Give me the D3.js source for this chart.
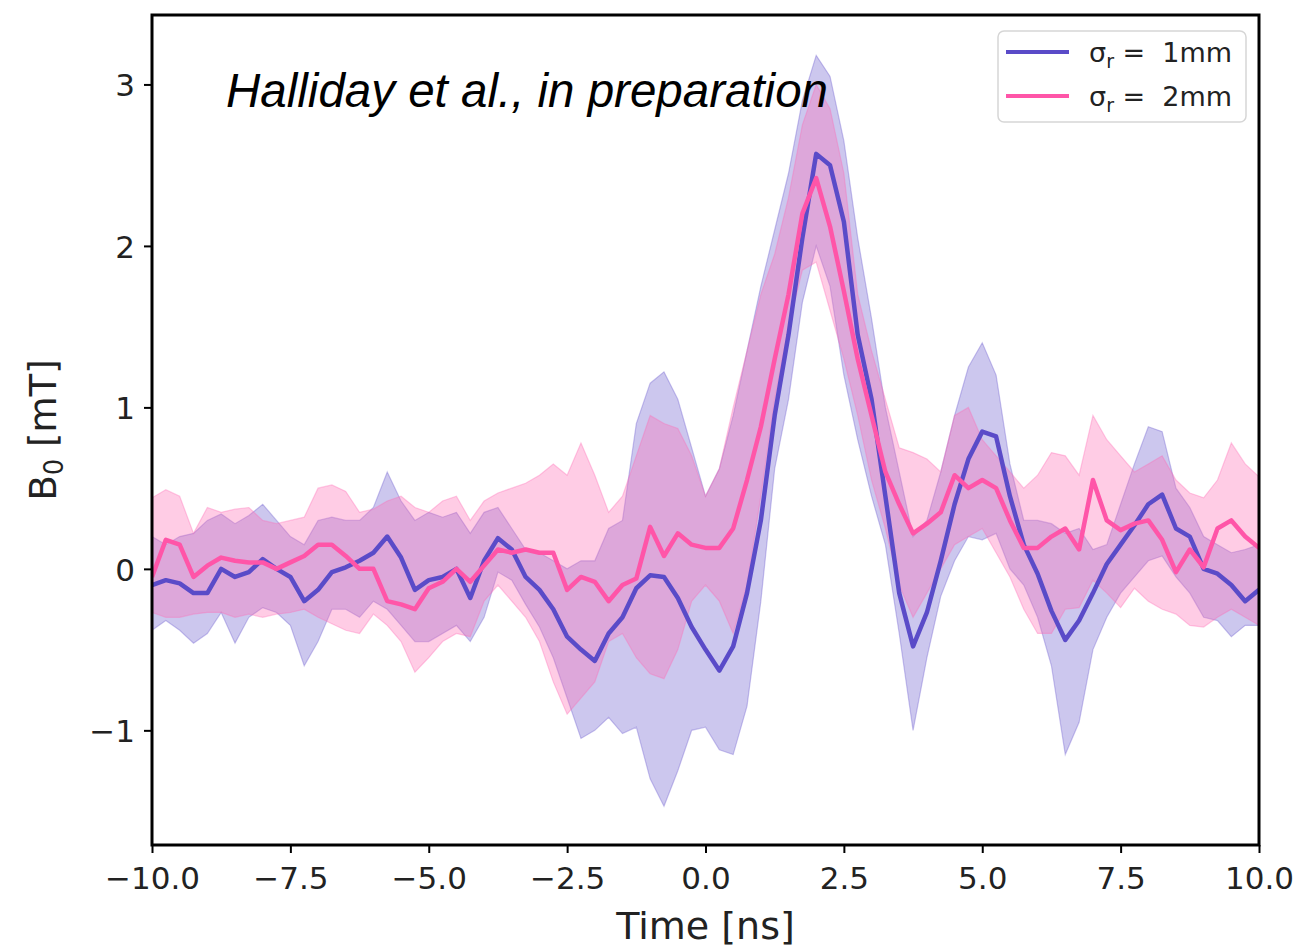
<!DOCTYPE html>
<html>
<head>
<meta charset="utf-8">
<script src="https://cdn.jsdelivr.net/npm/d3@7"></script>
<style>
  body { margin: 0; background: #fff; }
  svg { display: block; }
</style>
</head>
<body>
<div id="chart1"></div>
<script>
// sample times (ns)
const time = [-10, -9.75, -9.5, -9.25, -9, -8.75, -8.5, -8.25, -8, -7.75, -7.5, -7.25, -7, -6.75, -6.5, -6.25,
  -6, -5.75, -5.5, -5.25, -5, -4.75, -4.5, -4.25, -4, -3.75, -3.5, -3.25, -3, -2.75, -2.5, -2.25,
  -2, -1.75, -1.5, -1.25, -1, -0.75, -0.5, -0.25, 0, 0.25, 0.5, 0.75, 1, 1.25, 1.5, 1.75,
  2, 2.25, 2.5, 2.75, 3, 3.25, 3.5, 3.75, 4, 4.25, 4.5, 4.75, 5, 5.25, 5.5, 5.75,
  6, 6.25, 6.5, 6.75, 7, 7.25, 7.5, 7.75, 8, 8.25, 8.5, 8.75, 9, 9.25, 9.5, 9.75, 10];

// sigma_r = 1mm
const blueMean = [-0.10, -0.07, -0.09, -0.15, -0.15, 0.0, -0.05, -0.02, 0.06, 0.0, -0.05, -0.2, -0.13, -0.02, 0.01, 0.05,
  0.1, 0.2, 0.07, -0.13, -0.07, -0.05, 0.0, -0.18, 0.05, 0.19, 0.12, -0.05, -0.13, -0.25, -0.42, -0.5,
  -0.57, -0.4, -0.3, -0.12, -0.04, -0.05, -0.18, -0.36, -0.5, -0.63, -0.48, -0.15, 0.3, 0.95, 1.45, 2.05,
  2.57, 2.5, 2.15, 1.45, 1.05, 0.45, -0.15, -0.48, -0.27, 0.05, 0.4, 0.68, 0.85, 0.82, 0.45, 0.15,
  -0.03, -0.26, -0.44, -0.32, -0.15, 0.03, 0.15, 0.27, 0.4, 0.46, 0.25, 0.2, 0.0, -0.03, -0.1, -0.2, -0.13];
const blueLo = [-0.38, -0.32, -0.38, -0.46, -0.4, -0.27, -0.46, -0.3, -0.24, -0.27, -0.35, -0.6, -0.45, -0.25, -0.25, -0.3,
  -0.2, -0.25, -0.35, -0.45, -0.45, -0.4, -0.35, -0.45, -0.3, -0.02, -0.07, -0.22, -0.36, -0.55, -0.8, -1.05,
  -1.0, -0.92, -1.02, -0.98, -1.3, -1.47, -1.25, -1.0, -0.98, -1.12, -1.15, -0.85, -0.2, 0.62, 1.05, 1.65,
  2.0, 1.75, 1.2, 0.8, 0.45, 0.15, -0.4, -1.0, -0.55, -0.17, 0.05, 0.2, 0.18, 0.22, 0.0, -0.1,
  -0.3, -0.6, -1.15, -0.95, -0.5, -0.3, -0.15, -0.05, 0.05, 0.08, -0.05, -0.15, -0.3, -0.32, -0.42, -0.35, -0.35];
const blueHi = [0.2, 0.15, 0.2, 0.22, 0.3, 0.34, 0.28, 0.33, 0.4, 0.3, 0.2, 0.15, 0.3, 0.32, 0.3, 0.3,
  0.38, 0.6, 0.42, 0.3, 0.35, 0.32, 0.35, 0.22, 0.35, 0.38, 0.25, 0.12, 0.1, 0.05, 0.0, 0.05,
  0.05, 0.25, 0.3, 0.9, 1.15, 1.22, 1.05, 0.75, 0.45, 0.62, 0.95, 1.35, 1.75, 2.1, 2.45, 2.9,
  3.18, 3.05, 2.65, 2.05, 1.55, 1.0, 0.6, 0.2, 0.3, 0.6, 0.95, 1.25, 1.4, 1.2, 0.65, 0.3,
  0.3, 0.28, 0.22, 0.25, 0.12, 0.15, 0.4, 0.65, 0.88, 0.85, 0.5, 0.38, 0.2, 0.15, 0.1, 0.12, 0.15];

// sigma_r = 2mm
const pinkMean = [-0.05, 0.18, 0.15, -0.05, 0.02, 0.07, 0.05, 0.04, 0.04, 0.0, 0.04, 0.08, 0.15, 0.15, 0.08, 0.0,
  0.0, -0.2, -0.22, -0.25, -0.12, -0.08, 0.0, -0.08, 0.02, 0.12, 0.1, 0.12, 0.1, 0.1, -0.13, -0.05,
  -0.08, -0.2, -0.1, -0.06, 0.26, 0.08, 0.22, 0.15, 0.13, 0.13, 0.25, 0.55, 0.88, 1.3, 1.7, 2.2,
  2.42, 2.12, 1.72, 1.3, 0.95, 0.6, 0.4, 0.22, 0.28, 0.35, 0.58, 0.5, 0.55, 0.5, 0.3, 0.13,
  0.13, 0.2, 0.25, 0.12, 0.55, 0.3, 0.24, 0.28, 0.3, 0.18, -0.02, 0.12, 0.01, 0.25, 0.3, 0.2, 0.13];
const pinkLo = [-0.27, -0.3, -0.3, -0.28, -0.27, -0.27, -0.3, -0.28, -0.3, -0.28, -0.27, -0.25, -0.3, -0.34, -0.38, -0.4,
  -0.28, -0.35, -0.45, -0.64, -0.55, -0.45, -0.4, -0.42, -0.2, -0.1, -0.2, -0.3, -0.45, -0.7, -0.9, -0.8,
  -0.7, -0.45, -0.4, -0.55, -0.65, -0.68, -0.5, -0.2, -0.1, -0.2, -0.4, -0.1, 0.45, 1.05, 1.5, 1.85,
  1.9, 1.6, 1.3, 0.95, 0.55, 0.25, -0.1, -0.3, -0.15, 0.0, 0.15, 0.2, 0.25, 0.1, -0.05, -0.25,
  -0.4, -0.4, -0.25, -0.24, -0.07, -0.15, -0.24, -0.12, -0.2, -0.25, -0.28, -0.35, -0.36, -0.3, -0.25, -0.3, -0.35];
const pinkHi = [0.44, 0.49, 0.45, 0.22, 0.38, 0.35, 0.37, 0.38, 0.3, 0.28, 0.3, 0.32, 0.5, 0.52, 0.48, 0.35,
  0.37, 0.42, 0.45, 0.38, 0.35, 0.42, 0.45, 0.3, 0.42, 0.47, 0.5, 0.53, 0.58, 0.65, 0.58, 0.78,
  0.58, 0.35, 0.45, 0.7, 0.95, 0.9, 0.87, 0.7, 0.45, 0.62, 1.0, 1.35, 1.7, 1.95, 2.3, 2.75,
  3.0, 2.85, 2.45, 1.7, 1.35, 1.05, 0.75, 0.72, 0.68, 0.6, 0.95, 1.0, 0.8, 0.7, 0.6, 0.5,
  0.58, 0.72, 0.7, 0.58, 0.95, 0.8, 0.7, 0.6, 0.65, 0.7, 0.55, 0.47, 0.44, 0.55, 0.78, 0.65, 0.57];

const xTicks = [-10, -7.5, -5, -2.5, 0, 2.5, 5, 7.5, 10];
const yTicks = [-1, 0, 1, 2, 3];
const seriesNames = ["1mm", "2mm"];

function initPlot() {
  const margin = { top: 15, right: 57, bottom: 104, left: 152 },
        width = 1316 - margin.left - margin.right,
        height = 949 - margin.top - margin.bottom;

  const svg = d3.select("#chart1").append("svg")
      .attr("width", 1316)
      .attr("height", 949)
      .style("font-family", "'DejaVu Sans', sans-serif")
    .append("g")
      .attr("transform", `translate(${margin.left},${margin.top})`);

  const x = d3.scaleLinear().domain([-10, 10]).range([0, width]);
  const y = d3.scaleLinear().domain([-1.71, 3.43]).range([height, 0]);

  svg.append("clipPath").attr("id", "clip")
    .append("rect").attr("width", width).attr("height", height);

  const series = [
    { name: seriesNames[0], mean: blueMean, lo: blueLo, hi: blueHi, color: "#5a4bc8", fill: "#6a5acd" },
    { name: seriesNames[1], mean: pinkMean, lo: pinkLo, hi: pinkHi, color: "#ff55a8", fill: "#ff69b4" }
  ];

  const plot = svg.append("g").attr("clip-path", "url(#clip)");

  const area = (s) => d3.area()
      .x((d, i) => x(time[i]))
      .y0((d, i) => y(s.lo[i]))
      .y1((d, i) => y(s.hi[i]));

  const line = (s) => d3.line()
      .x((d, i) => x(time[i]))
      .y((d, i) => y(s.mean[i]));

  // bands first, lines on top
  series.forEach(s => {
    plot.append("path")
      .datum(time)
      .attr("d", area(s))
      .attr("fill", s.fill)
      .attr("fill-opacity", 0.34)
      .attr("stroke", s.fill)
      .attr("stroke-opacity", 0.35)
      .attr("stroke-width", 1.2);
  });
  series.forEach(s => {
    plot.append("path")
      .datum(time)
      .attr("d", line(s))
      .attr("fill", "none")
      .attr("stroke", s.color)
      .attr("stroke-width", 4.5)
      .attr("stroke-linejoin", "round");
  });

  // axes
  const xAxis = svg.append("g")
    .attr("transform", `translate(0,${height})`)
    .call(d3.axisBottom(x).tickValues(xTicks).tickFormat(d3.format(".1f")).tickSize(8).tickSizeOuter(0));
  const yAxis = svg.append("g")
    .call(d3.axisLeft(y).tickValues(yTicks).tickFormat(d3.format("d")).tickSize(8).tickSizeOuter(0));

  [xAxis, yAxis].forEach(a => {
    a.select(".domain").remove();
    a.selectAll(".tick line").attr("stroke", "#000").attr("stroke-width", 2);
    a.selectAll("text")
      .attr("fill", "#222")
      .style("font-family", "'DejaVu Sans', sans-serif")
      .style("font-size", "31px");
  });
  xAxis.selectAll("text").attr("dy", "0.71em").attr("y", 22);
  yAxis.selectAll("text").attr("x", -17).attr("dy", "0.36em");

  // frame
  svg.append("rect")
    .attr("width", width)
    .attr("height", height)
    .attr("fill", "none")
    .attr("stroke", "#000")
    .attr("stroke-width", 3);

  // axis titles
  svg.append("text")
    .attr("x", width / 2)
    .attr("y", height + 94)
    .attr("text-anchor", "middle")
    .attr("fill", "#222")
    .style("font-size", "38px")
    .text("Time [ns]");

  const yl = svg.append("text")
    .attr("transform", "rotate(-90)")
    .attr("x", -height / 2)
    .attr("y", -96)
    .attr("text-anchor", "middle")
    .attr("fill", "#222")
    .style("font-size", "37px");
  yl.append("tspan").text("B");
  yl.append("tspan").attr("font-size", "26px").attr("dy", 7).text("0");
  yl.append("tspan").attr("dy", -7).text(" [mT]");

  // annotation
  svg.append("text")
    .attr("x", 226 - margin.left)
    .attr("y", 107 - margin.top)
    .style("font-family", "'Liberation Sans', Arial, sans-serif")
    .style("font-style", "italic")
    .style("font-size", "47.5px")
    .attr("fill", "#000")
    .text("Halliday et al., in preparation");

  // legend
  const lg = svg.append("g").attr("transform", `translate(${998 - margin.left},${31 - margin.top})`);
  lg.append("rect")
    .attr("width", 248).attr("height", 91)
    .attr("rx", 6)
    .attr("fill", "#fff").attr("fill-opacity", 0.85)
    .attr("stroke", "#d6d6d6").attr("stroke-width", 1.5);
  series.forEach((s, i) => {
    const row = lg.append("g").attr("transform", `translate(0,${21 + i * 44})`);
    row.append("line")
      .attr("x1", 8).attr("x2", 71)
      .attr("stroke", s.color).attr("stroke-width", 4);
    const t = row.append("text")
      .attr("x", 91).attr("y", 10)
      .attr("fill", "#222")
      .style("font-size", "27px");
    t.append("tspan").text("σ");
    t.append("tspan").attr("font-size", "19px").attr("dy", 6).text("r");
    t.append("tspan").attr("dy", -6).attr("xml:space", "preserve").text(" =  " + s.name);
  });
}

initPlot();
</script>
</body>
</html>
